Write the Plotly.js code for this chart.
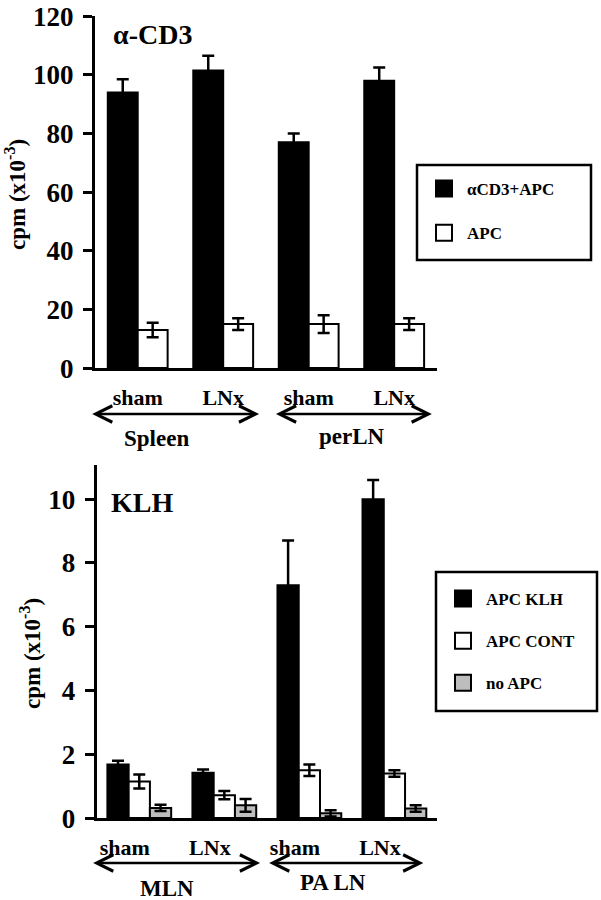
<!DOCTYPE html>
<html>
<head>
<meta charset="utf-8">
<script src="https://cdn.plot.ly/plotly-3.0.1.min.js"></script>
<style>
  body { margin: 0; background: white; }
  #chart { width: 601px; height: 900px; }
</style>
</head>
<body>
<div id="chart"></div>
<script>
// group positions along x (0..3) and their tick labels
var groupIdx = [0, 1, 2, 3];
var groupLabels = ['sham', 'LNx', 'sham', 'LNx'];

// top panel: alpha-CD3 (cpm x10^-3)
var cd3Apc = [94, 101.5, 77, 98];
var cd3ApcErr = [4.5, 5, 3, 4.5];
var apcOnly = [13, 15, 15, 15];
var apcOnlyErr = [2.5, 2, 3, 2];

// bottom panel: KLH (cpm x10^-3)
var apcKlh = [1.68, 1.42, 7.3, 10.0];
var apcKlhErr = [0.12, 0.1, 1.4, 0.6];
var apcCont = [1.15, 0.72, 1.5, 1.4];
var apcContErr = [0.22, 0.13, 0.18, 0.1];
var noApc = [0.32, 0.4, 0.15, 0.3];
var noApcErr = [0.1, 0.2, 0.1, 0.1];

var serif = 'Liberation Serif, Times New Roman, serif';
var grey = '#bdbdbd';

function errBar(arr) {
    return {type: 'data', array: arr, visible: true, color: 'black', thickness: 2.5, width: 6};
}

function barTrace(x, y, err, fill, wid, off, xa, ya) {
    return {
        type: 'bar',
        x: x,
        y: y,
        width: wid,
        offset: off,
        marker: {color: fill, line: {color: 'black', width: 2}},
        error_y: errBar(err),
        showlegend: false,
        xaxis: xa,
        yaxis: ya,
        hoverinfo: 'skip'
    };
}

// legend-only entries so the key squares are larger than bar icons
function keyTrace(name, fill, legendId, xa, ya) {
    return {
        type: 'scatter',
        mode: 'markers',
        x: [null],
        y: [null],
        name: name,
        legend: legendId,
        legendgroup: name,
        marker: {symbol: 'square', size: 16, color: fill, line: {color: 'black', width: 2}},
        xaxis: xa,
        yaxis: ya
    };
}

var data = [
    barTrace(groupIdx, cd3Apc, cd3ApcErr, 'black', 0.35, -0.35, 'x', 'y'),
    barTrace(groupIdx, apcOnly, apcOnlyErr, 'white', 0.35, 0, 'x', 'y'),
    barTrace(groupIdx, apcKlh, apcKlhErr, 'black', 0.25, -0.375, 'x2', 'y2'),
    barTrace(groupIdx, apcCont, apcContErr, 'white', 0.25, -0.125, 'x2', 'y2'),
    barTrace(groupIdx, noApc, noApcErr, grey, 0.25, 0.125, 'x2', 'y2'),
    keyTrace('\u03b1CD3+APC', 'black', 'legend', 'x', 'y'),
    keyTrace('APC', 'white', 'legend', 'x', 'y'),
    keyTrace('APC KLH', 'black', 'legend2', 'x2', 'y2'),
    keyTrace('APC CONT', 'white', 'legend2', 'x2', 'y2'),
    keyTrace('no APC', grey, 'legend2', 'x2', 'y2')
];

var boldFont = function(size) {
    return {family: serif, size: size, color: 'black', weight: 700};
};

function xAxis(dom, anchor, shift) {
    return {
        domain: dom,
        anchor: anchor,
        range: [-0.5, 3.5],
        tickvals: groupIdx.map(function(v) { return v + shift; }),
        ticktext: groupLabels,
        ticks: '',
        ticklabelstandoff: 7,
        tickfont: boldFont(22),
        showline: true,
        linecolor: 'black',
        linewidth: 3,
        showgrid: false,
        zeroline: false,
        fixedrange: true
    };
}

function yAxis(dom, anchor, range, dtick) {
    return {
        domain: dom,
        anchor: anchor,
        range: range,
        dtick: dtick,
        ticks: 'outside',
        ticklen: 9,
        tickwidth: 3,
        tickcolor: 'black',
        ticklabelstandoff: 4,
        tickfont: boldFont(27),
        showline: true,
        linecolor: 'black',
        linewidth: 3,
        showgrid: false,
        zeroline: false,
        fixedrange: true
    };
}

function spanArrow(xa, y, x0, x1) {
    return {
        xref: xa, yref: 'paper', axref: xa, ayref: 'pixel',
        x: x1, ax: x0, y: y, ay: 0,
        text: '', showarrow: true,
        arrowside: 'end+start', arrowhead: 5, arrowsize: 1.3, arrowwidth: 2.5,
        arrowcolor: 'black'
    };
}

function label(text, x, y, size, anchor, angle) {
    return {
        xref: 'paper', yref: 'paper', x: x / 601, y: 1 - y / 900,
        xanchor: anchor || 'center', yanchor: 'middle',
        textangle: angle || 0,
        text: text, showarrow: false, font: boldFont(size)
    };
}

function box(x0, y0, x1, y1) {
    return {
        type: 'rect', xref: 'paper', yref: 'paper',
        x0: x0 / 601, x1: x1 / 601, y0: 1 - y1 / 900, y1: 1 - y0 / 900,
        line: {color: 'black', width: 2.5}, fillcolor: 'rgba(0,0,0,0)'
    };
}

var layout = {
    width: 601,
    height: 900,
    margin: {l: 0, r: 0, t: 0, b: 0},
    paper_bgcolor: 'white',
    plot_bgcolor: 'white',
    showlegend: true,
    xaxis: xAxis([0.158, 0.727], 'y', 0),
    yaxis: yAxis([0.591, 0.982], 'x', [0, 120], 20),
    xaxis2: xAxis([0.161, 0.727], 'y2', -0.17),
    yaxis2: yAxis([0.091, 0.4833], 'x2', [0, 11.07], 2),
    legend: {
        x: 421 / 601, y: 1 - 171 / 900, xanchor: 'left', yanchor: 'top',
        bgcolor: 'rgba(0,0,0,0)', borderwidth: 0,
        font: boldFont(17), tracegroupgap: 19, itemwidth: 36
    },
    legend2: {
        x: 440 / 601, y: 1 - 581 / 900, xanchor: 'left', yanchor: 'top',
        bgcolor: 'rgba(0,0,0,0)', borderwidth: 0,
        font: boldFont(17), tracegroupgap: 17, itemwidth: 36
    },
    shapes: [
        box(417, 165, 591, 260),
        box(436, 572, 597, 711)
    ],
    annotations: [
        label('\u03b1-CD3', 111, 34, 28, 'left'),
        label('KLH', 109, 502, 28, 'left'),
        label('cpm (x10<sup>-3</sup>)', 15, 195, 23, 'center', -90),
        label('cpm (x10<sup>-3</sup>)', 30, 654, 23, 'center', -90),
        spanArrow('x', 1 - 414 / 900, -0.55, 1.42),
        spanArrow('x', 1 - 414 / 900, 1.6, 3.44),
        spanArrow('x2', 1 - 863 / 900, -0.56, 1.42),
        spanArrow('x2', 1 - 863 / 900, 1.51, 3.34),
        label('Spleen', 156, 438, 23),
        label('perLN', 352, 437, 23),
        label('MLN', 167, 888, 23),
        label('PA LN', 333, 882, 23)
    ]
};

Plotly.newPlot('chart', data, layout, {displayModeBar: false, staticPlot: true});
</script>
</body>
</html>
